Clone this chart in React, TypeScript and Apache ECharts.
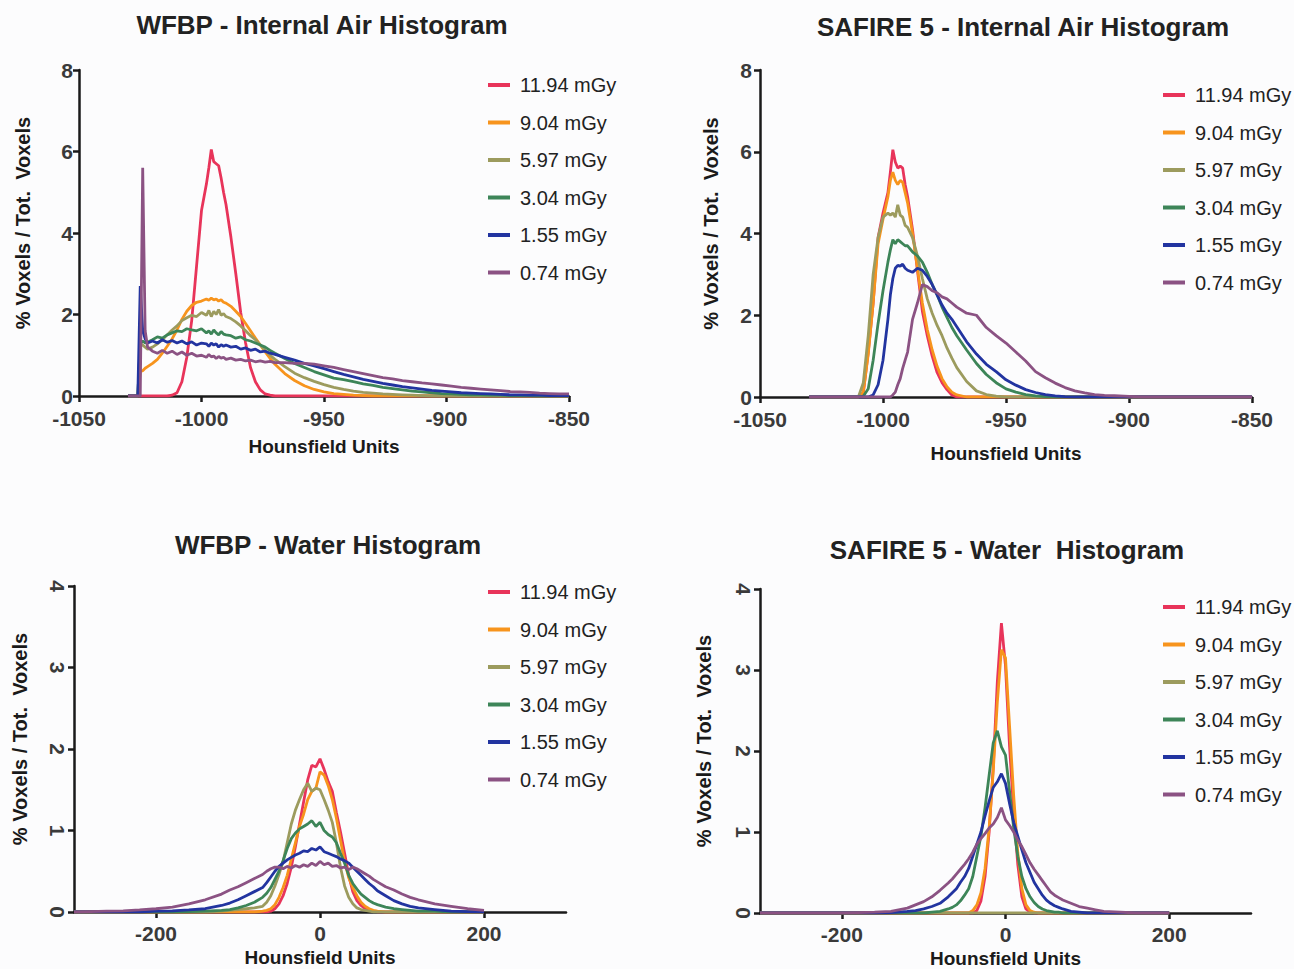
import React, { useEffect, useRef } from "react";
import * as echarts from "echarts";

const NAMES = ["11.94 mGy", "9.04 mGy", "5.97 mGy", "3.04 mGy", "1.55 mGy", "0.74 mGy"];
const COLORS = ["#e8345a", "#f7941d", "#9c9b5e", "#3d8558", "#2234a0", "#8b5283"];
const TITLES = [
  "WFBP - Internal Air Histogram",
  "SAFIRE 5 - Internal Air Histogram",
  "WFBP - Water Histogram",
  "SAFIRE 5 - Water  Histogram",
];
const X_NAME = "Hounsfield Units";
const Y_NAME = "% Voxels / Tot.  Voxels";

// Hounsfield unit sample positions
const X_AIR = [-1030, -1026, -1025, -1024, -1023, -1022, -1020, -1018, -1016, -1014, -1012, -1010, -1008, -1006, -1004, -1002, -1000, -998, -997, -996, -995, -994, -993, -992, -991, -990, -988, -986, -984, -982, -980, -978, -976, -974, -972, -970, -966, -962, -958, -954, -950, -946, -942, -938, -934, -930, -926, -922, -918, -914, -910, -906, -902, -898, -894, -890, -886, -882, -878, -874, -870, -866, -862, -858, -854, -850];
const X_WATER = [-300, -280, -260, -240, -220, -200, -180, -160, -140, -120, -110, -100, -90, -80, -70, -65, -60, -55, -50, -45, -40, -35, -30, -25, -20, -15, -10, -5, 0, 5, 10, 15, 20, 25, 30, 35, 40, 45, 50, 55, 60, 65, 70, 80, 90, 100, 110, 120, 140, 160, 180, 200];

const Z30 = [0, 0, 0, 0, 0, 0, 0, 0, 0, 0, 0, 0, 0, 0, 0, 0, 0, 0, 0, 0, 0, 0, 0, 0, 0, 0, 0, 0, 0, 0];

// WFBP - Internal Air
const WA_R = [0, 0, 0, 0, 0, 0, 0, 0, 0, 0, 0.02, 0.08, 0.35, 0.95, 1.85, 3.2, 4.55, 5.2, 5.6, 6.05, 5.75, 5.7, 5.65, 5.35, 5.0, 4.7, 3.9, 3.0, 2.05, 1.3, 0.7, 0.35, 0.15, 0.05, 0.02, 0, ...Z30];
const WA_O = [0, 0, 0.6, 0.62, 0.68, 0.72, 0.8, 0.9, 1.05, 1.22, 1.4, 1.62, 1.88, 2.08, 2.22, 2.3, 2.33, 2.38, 2.35, 2.4, 2.36, 2.38, 2.33, 2.36, 2.3, 2.28, 2.2, 2.08, 1.95, 1.78, 1.6, 1.42, 1.25, 1.08, 0.92, 0.78, 0.55, 0.38, 0.25, 0.16, 0.1, 0.06, 0.04, 0.02, 0.01, 0, 0, 0, 0, 0, 0, 0, 0, 0, 0, 0, 0, 0, 0, 0, 0, 0, 0, 0, 0, 0];
const WA_Y = [0, 0, 1.3, 1.25, 1.2, 1.15, 1.2, 1.28, 1.38, 1.5, 1.62, 1.72, 1.85, 1.92, 1.98, 1.95, 2.05, 1.98, 2.1, 1.95, 2.08, 2.0, 2.12, 1.98, 2.02, 1.95, 1.9, 1.82, 1.72, 1.6, 1.48, 1.38, 1.25, 1.12, 1.0, 0.9, 0.72, 0.56, 0.45, 0.36, 0.28, 0.21, 0.16, 0.12, 0.09, 0.07, 0.05, 0.04, 0.03, 0.02, 0.01, 0, 0, 0, 0, 0, 0, 0, 0, 0, 0, 0, 0, 0, 0, 0];
const WA_G = [0, 0, 1.3, 1.35, 1.3, 1.32, 1.38, 1.45, 1.42, 1.5, 1.55, 1.6, 1.58, 1.65, 1.62, 1.6, 1.65, 1.55, 1.6, 1.52, 1.62, 1.55, 1.5, 1.58, 1.52, 1.5, 1.48, 1.42, 1.45, 1.38, 1.35, 1.3, 1.25, 1.2, 1.12, 1.05, 0.92, 0.8, 0.7, 0.6, 0.52, 0.44, 0.4, 0.35, 0.3, 0.26, 0.21, 0.18, 0.15, 0.12, 0.1, 0.08, 0.06, 0.05, 0.04, 0.03, 0.03, 0.02, 0.02, 0.01, 0.01, 0.01, 0, 0, 0, 0];
const WA_B = [0, 0, 2.7, 1.6, 1.4, 1.3, 1.35, 1.3, 1.38, 1.32, 1.36, 1.3, 1.35, 1.28, 1.33, 1.25, 1.3, 1.28, 1.22, 1.3, 1.25, 1.28, 1.2, 1.26, 1.22, 1.25, 1.2, 1.22, 1.15, 1.18, 1.12, 1.15, 1.08, 1.1, 1.05, 1.02, 0.95, 0.88, 0.8, 0.74, 0.67, 0.6, 0.53, 0.47, 0.41, 0.36, 0.31, 0.27, 0.23, 0.2, 0.17, 0.14, 0.12, 0.1, 0.08, 0.07, 0.06, 0.05, 0.04, 0.03, 0.03, 0.02, 0.02, 0.01, 0.01, 0.01];
const WA_P = [0, 0, 0, 5.6, 1.6, 1.2, 1.1, 1.05, 1.12, 1.05, 1.1, 1.02, 1.08, 1.0, 1.05, 0.98, 1.0, 0.95, 1.02, 0.96, 0.98, 0.92, 0.97, 0.93, 0.95, 0.9, 0.93, 0.88, 0.9, 0.86, 0.88, 0.84, 0.86, 0.83, 0.85, 0.82, 0.82, 0.8, 0.8, 0.78, 0.74, 0.7, 0.65, 0.6, 0.55, 0.5, 0.45, 0.42, 0.38, 0.35, 0.32, 0.3, 0.27, 0.24, 0.21, 0.19, 0.17, 0.15, 0.13, 0.11, 0.1, 0.09, 0.07, 0.06, 0.05, 0.05];

// SAFIRE 5 - Internal Air
const SA_R = [0, 0, 0, 0, 0, 0, 0, 0, 0, 0, 0, 0, 0.1, 1.1, 2.3, 3.9, 4.5, 5.0, 5.5, 6.05, 5.75, 5.6, 5.65, 5.6, 5.2, 4.9, 4.1, 3.1, 2.1, 1.5, 1.0, 0.6, 0.35, 0.18, 0.05, 0, ...Z30];
const SA_O = [0, 0, 0, 0, 0, 0, 0, 0, 0, 0, 0, 0, 0.12, 1.05, 2.3, 3.75, 4.35, 4.9, 5.3, 5.5, 5.3, 5.2, 5.3, 5.25, 5.0, 4.75, 4.0, 3.15, 2.3, 1.65, 1.15, 0.75, 0.45, 0.25, 0.12, 0.05, ...Z30];
const SA_Y = [0, 0, 0, 0, 0, 0, 0, 0, 0, 0, 0, 0, 0.35, 1.5, 3.0, 3.9, 4.4, 4.5, 4.45, 4.5, 4.4, 4.7, 4.45, 4.4, 4.2, 4.15, 3.9, 3.45, 2.9, 2.4, 2.05, 1.75, 1.5, 1.2, 0.95, 0.72, 0.38, 0.15, 0.06, 0.02, 0, 0, 0, 0, 0, 0, 0, 0, 0, 0, 0, 0, 0, 0, 0, 0, 0, 0, 0, 0, 0, 0, 0, 0, 0, 0];
const SA_G = [0, 0, 0, 0, 0, 0, 0, 0, 0, 0, 0, 0, 0.02, 0.2, 0.9, 1.8, 2.6, 3.3, 3.6, 3.85, 3.75, 3.85, 3.8, 3.75, 3.7, 3.7, 3.55, 3.45, 3.3, 3.05, 2.75, 2.5, 2.2, 1.95, 1.7, 1.5, 1.15, 0.82, 0.55, 0.35, 0.2, 0.12, 0.06, 0.03, 0.01, 0, 0, 0, 0, 0, 0, 0, 0, 0, 0, 0, 0, 0, 0, 0, 0, 0, 0, 0, 0, 0];
const SA_B = [0, 0, 0, 0, 0, 0, 0, 0, 0, 0, 0, 0, 0, 0, 0.05, 0.3, 0.9, 1.9, 2.5, 2.9, 3.15, 3.22, 3.2, 3.25, 3.15, 3.1, 3.05, 3.15, 3.1, 2.95, 2.75, 2.5, 2.25, 2.05, 1.9, 1.72, 1.35, 1.05, 0.8, 0.62, 0.42, 0.29, 0.18, 0.11, 0.06, 0.03, 0.01, 0, 0, 0, 0, 0, 0, 0, 0, 0, 0, 0, 0, 0, 0, 0, 0, 0, 0, 0];
const SA_P = [0, 0, 0, 0, 0, 0, 0, 0, 0, 0, 0, 0, 0, 0, 0, 0, 0, 0, 0, 0.05, 0.12, 0.3, 0.45, 0.7, 0.9, 1.1, 1.9, 2.3, 2.75, 2.7, 2.6, 2.55, 2.45, 2.4, 2.3, 2.2, 2.05, 2.0, 1.7, 1.5, 1.32, 1.1, 0.88, 0.62, 0.47, 0.34, 0.23, 0.15, 0.1, 0.06, 0.04, 0.03, 0.02, 0.01, 0, 0, 0, 0, 0, 0, 0, 0, 0, 0, 0, 0];

// WFBP - Water
const WW_R = [0, 0, 0, 0, 0, 0, 0, 0, 0, 0, 0, 0, 0, 0, 0, 0, 0.01, 0.04, 0.1, 0.2, 0.35, 0.55, 0.8, 1.08, 1.35, 1.62, 1.8, 1.78, 1.88, 1.75, 1.6, 1.48, 1.22, 0.98, 0.72, 0.45, 0.25, 0.14, 0.08, 0.04, 0.02, 0.01, 0, 0, 0, 0, 0, 0, 0, 0, 0, 0];
const WW_O = [0, 0, 0, 0, 0, 0, 0, 0, 0, 0, 0, 0, 0, 0, 0.01, 0.02, 0.04, 0.09, 0.18, 0.3, 0.45, 0.65, 0.85, 1.05, 1.2, 1.38, 1.48, 1.52, 1.72, 1.68, 1.55, 1.38, 1.15, 0.88, 0.62, 0.42, 0.3, 0.2, 0.12, 0.07, 0.04, 0.02, 0.01, 0, 0, 0, 0, 0, 0, 0, 0, 0];
const WW_Y = [0, 0, 0, 0, 0, 0, 0, 0, 0, 0.01, 0.02, 0.03, 0.04, 0.05, 0.07, 0.12, 0.2, 0.32, 0.46, 0.62, 0.85, 1.08, 1.25, 1.38, 1.5, 1.58, 1.48, 1.52, 1.5, 1.38, 1.25, 1.1, 0.85, 0.55, 0.32, 0.18, 0.1, 0.05, 0.03, 0.02, 0.01, 0, 0, 0, 0, 0, 0, 0, 0, 0, 0, 0];
const WW_G = [0, 0, 0, 0, 0, 0, 0, 0.005, 0.01, 0.02, 0.03, 0.05, 0.08, 0.12, 0.18, 0.23, 0.3, 0.4, 0.5, 0.63, 0.78, 0.9, 0.97, 1.02, 1.05, 1.08, 1.12, 1.05, 1.1, 1.0, 0.95, 0.92, 0.85, 0.72, 0.6, 0.45, 0.35, 0.28, 0.22, 0.18, 0.14, 0.11, 0.09, 0.06, 0.04, 0.03, 0.02, 0.01, 0.01, 0, 0, 0];
const WW_B = [0, 0, 0, 0, 0, 0.01, 0.015, 0.025, 0.04, 0.08, 0.11, 0.15, 0.2, 0.25, 0.3, 0.36, 0.43, 0.5, 0.56, 0.6, 0.64, 0.67, 0.7, 0.72, 0.75, 0.74, 0.78, 0.76, 0.8, 0.74, 0.72, 0.7, 0.68, 0.65, 0.63, 0.6, 0.55, 0.5, 0.45, 0.4, 0.35, 0.31, 0.26, 0.2, 0.14, 0.1, 0.07, 0.05, 0.03, 0.01, 0.005, 0];
const WW_P = [0, 0.005, 0.01, 0.015, 0.025, 0.04, 0.06, 0.1, 0.15, 0.22, 0.27, 0.31, 0.36, 0.41, 0.46, 0.5, 0.53, 0.55, 0.55, 0.53, 0.56, 0.54, 0.57, 0.55, 0.58, 0.56, 0.6, 0.57, 0.62, 0.58, 0.6, 0.56, 0.57, 0.54, 0.55, 0.52, 0.55, 0.53, 0.5, 0.47, 0.44, 0.4, 0.37, 0.31, 0.27, 0.22, 0.18, 0.15, 0.1, 0.07, 0.04, 0.02];

// SAFIRE 5 - Water
const SW_R = [0, 0, 0, 0, 0, 0, 0, 0, 0, 0, 0, 0, 0, 0, 0, 0, 0, 0, 0, 0, 0, 0.03, 0.15, 0.45, 1.0, 1.8, 2.85, 3.58, 3.05, 2.05, 1.25, 0.6, 0.2, 0.05, 0.01, 0, 0, 0, 0, 0, 0, 0, 0, 0, 0, 0, 0, 0, 0, 0, 0, 0];
const SW_O = [0, 0, 0, 0, 0, 0, 0, 0, 0, 0, 0, 0, 0, 0, 0, 0, 0, 0, 0, 0, 0.03, 0.1, 0.25, 0.55, 1.05, 1.75, 2.6, 3.25, 3.15, 2.3, 1.45, 0.75, 0.3, 0.1, 0.03, 0.01, 0, 0, 0, 0, 0, 0, 0, 0, 0, 0, 0, 0, 0, 0, 0, 0];
const SW_Y = [0, 0, 0, 0, 0, 0, 0, 0, 0, 0, 0, 0, 0, 0, 0, 0, 0, 0, 0, 0, 0, 0, 0, 0, 0, 0, 0, 0, 0, 0, 0, 0, 0, 0, 0, 0, 0, 0, 0, 0, 0, 0, 0, 0, 0, 0, 0, 0, 0, 0, 0, 0];
const SW_G = [0, 0, 0, 0, 0, 0, 0, 0, 0, 0, 0, 0, 0.01, 0.02, 0.05, 0.07, 0.1, 0.15, 0.22, 0.3, 0.45, 0.7, 0.95, 1.3, 1.7, 2.1, 2.25, 2.05, 1.95, 1.5, 1.05, 0.7, 0.45, 0.3, 0.2, 0.13, 0.08, 0.05, 0.03, 0.02, 0.01, 0.01, 0, 0, 0, 0, 0, 0, 0, 0, 0, 0];
const SW_B = [0, 0, 0, 0, 0, 0, 0, 0, 0.005, 0.02, 0.03, 0.05, 0.08, 0.12, 0.2, 0.25, 0.3, 0.38, 0.45, 0.55, 0.7, 0.85, 1.0, 1.2, 1.38, 1.55, 1.62, 1.72, 1.6, 1.35, 1.12, 0.95, 0.78, 0.62, 0.5, 0.38, 0.3, 0.22, 0.16, 0.12, 0.09, 0.07, 0.05, 0.02, 0.01, 0, 0, 0, 0, 0, 0, 0];
const SW_P = [0, 0, 0, 0, 0, 0, 0.005, 0.01, 0.02, 0.06, 0.1, 0.14, 0.2, 0.28, 0.37, 0.42, 0.48, 0.54, 0.6, 0.67, 0.75, 0.85, 0.92, 0.98, 1.05, 1.1, 1.18, 1.3, 1.15, 1.08, 1.0, 0.9, 0.82, 0.72, 0.62, 0.54, 0.47, 0.4, 0.33, 0.26, 0.22, 0.19, 0.16, 0.12, 0.08, 0.06, 0.04, 0.02, 0.01, 0, 0, 0];

const PANELS = [
  { x: X_AIR, ys: [WA_R, WA_O, WA_Y, WA_G, WA_B, WA_P] },
  { x: X_AIR, ys: [SA_R, SA_O, SA_Y, SA_G, SA_B, SA_P] },
  { x: X_WATER, ys: [WW_R, WW_O, WW_Y, WW_G, WW_B, WW_P] },
  { x: X_WATER, ys: [SW_R, SW_O, SW_Y, SW_G, SW_B, SW_P] },
];

// layout
const GRIDS = [
  { left: 79, top: 70, width: 490, height: 326 },
  { left: 760, top: 70, width: 492, height: 327 },
  { left: 74, top: 586, width: 492, height: 326 },
  { left: 760, top: 589, width: 491, height: 325 },
];
const TITLE_POS = [[322, 25], [1023, 27], [328, 545], [1007, 550]];
const LEGEND_POS = [[483, 70], [1158, 80], [483, 577], [1158, 592]];
const YNAME_GAP = [46, 39, 44, 46];
const XNAME_GAP = [41, 47, 36, 36];
const XLABEL_MARGIN = [12, 12, 11, 11];
const YLABEL_MARGIN = [6, 8, 8, 8];

const FONT = "'Liberation Sans', Arial, Helvetica, sans-serif";
const AXIS_COLOR = "#1a1a1a";
const LABEL_COLOR = "#3a3a3a";

export default function App() {
  const ref = useRef<HTMLDivElement>(null);
  useEffect(() => {
    if (!ref.current) return;
    const chart = echarts.init(ref.current, undefined, { renderer: "svg" });
    const isAir = (i: number) => i < 2;
    const option: any = {
      animation: false,
      backgroundColor: "#fcfcfd",
      textStyle: { fontFamily: FONT },
      grid: GRIDS.map((g) => ({ ...g, containLabel: false })),
      xAxis: GRIDS.map((_, i) => ({
        type: "value",
        gridIndex: i,
        min: isAir(i) ? -1050 : -300,
        max: isAir(i) ? -850 : 300,
        interval: isAir(i) ? 50 : 100,
        name: X_NAME,
        nameLocation: "middle",
        nameGap: XNAME_GAP[i],
        nameTextStyle: { fontFamily: FONT, fontWeight: "bold", fontSize: 19, color: "#1a1a1a" },
        axisLine: { show: true, onZero: false, lineStyle: { color: AXIS_COLOR, width: 2.5 } },
        axisTick: {
          show: true,
          length: 6,
          lineStyle: { color: AXIS_COLOR, width: 2.5 },
          ...(isAir(i) ? {} : { customValues: [-200, 0, 200] }),
        },
        axisLabel: {
          fontFamily: FONT,
          fontWeight: "bold",
          fontSize: 21,
          lineHeight: 20,
          color: LABEL_COLOR,
          margin: XLABEL_MARGIN[i],
          formatter: (v: number) => String(v),
          ...(isAir(i) ? {} : { customValues: [-200, 0, 200] }),
        },
        splitLine: { show: false },
      })),
      yAxis: GRIDS.map((_, i) => ({
        type: "value",
        gridIndex: i,
        min: 0,
        max: isAir(i) ? 8 : 4,
        interval: isAir(i) ? 2 : 1,
        name: Y_NAME,
        nameLocation: "middle",
        nameGap: YNAME_GAP[i],
        nameTextStyle: {
          fontFamily: FONT,
          fontWeight: "bold",
          fontSize: 20,
          color: "#1a1a1a",
          padding: [0, 0, 0, 20],
        },
        axisLine: { show: true, onZero: false, lineStyle: { color: AXIS_COLOR, width: 2.5 } },
        axisTick: { show: true, length: 6, lineStyle: { color: AXIS_COLOR, width: 2.5 } },
        axisLabel: {
          fontFamily: FONT,
          fontWeight: "bold",
          fontSize: 21,
          lineHeight: 18,
          color: LABEL_COLOR,
          margin: YLABEL_MARGIN[i],
          rotate: isAir(i) ? 0 : -90,
        },
        splitLine: { show: false },
      })),
      legend: LEGEND_POS.map(([l, t]) => ({
        orient: "vertical",
        left: l,
        top: t,
        icon: "rect",
        itemWidth: 22,
        itemHeight: 4,
        itemGap: 17.5,
        data: NAMES,
        selectedMode: false,
        textStyle: { fontFamily: FONT, fontSize: 20, lineHeight: 20, color: "#222", padding: [0, 0, 0, 5] },
      })),
      graphic: TITLES.map((t, i) => ({
        type: "text",
        x: TITLE_POS[i][0],
        y: TITLE_POS[i][1],
        style: {
          text: t,
          font: `bold 26px ${FONT}`,
          fill: "#222",
          textAlign: "center",
          textVerticalAlign: "middle",
        },
      })),
      series: PANELS.flatMap((p, pi) =>
        p.ys.map((ys, si) => ({
          type: "line",
          name: NAMES[si],
          xAxisIndex: pi,
          yAxisIndex: pi,
          data: p.x.map((x, k) => [x, ys[k]]),
          showSymbol: false,
          symbol: "none",
          lineStyle: { width: 2.8, color: COLORS[si] },
          itemStyle: { color: COLORS[si] },
          z: 2 + si,
        }))
      ),
    };
    chart.setOption(option);
    return () => chart.dispose();
  }, []);
  return (
    <div
      ref={ref}
      style={{ position: "fixed", left: 0, top: 0, width: 1294, height: 969 }}
    />
  );
}
